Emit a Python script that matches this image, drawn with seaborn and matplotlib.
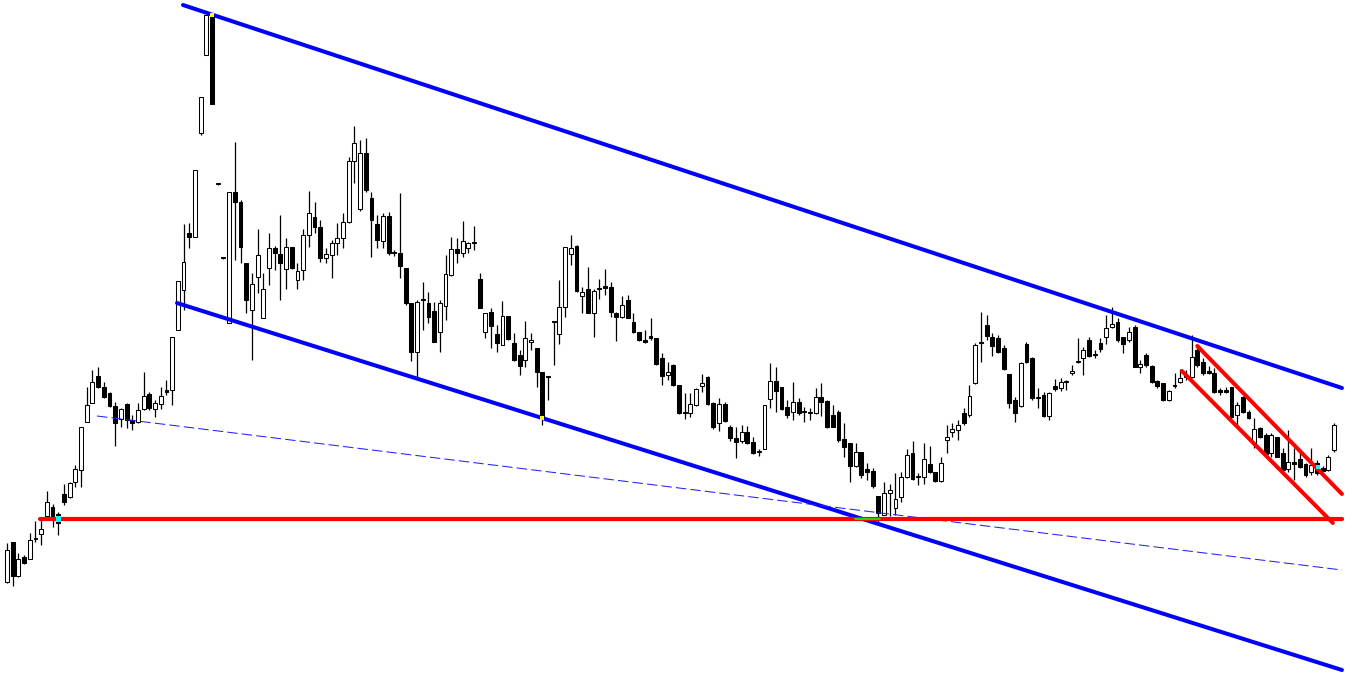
import numpy as np
import pandas as pd
import matplotlib
matplotlib.use("Agg")
import matplotlib.pyplot as plt
import seaborn as sns

# ---------------- data (arbitrary price units) ----------------
opens = [98, 138, 104, 123, 121, 141, 146, 164, 173, 166,
         186, 183, 198, 210, 258, 277, 304, 293, 287, 274,
         261, 276, 260, 258, 271, 286, 271, 276, 290, 290,
         350, 390, 447, 443, 547, 625, 665, 496, 422, 357,
         488, 478, 417, 370, 403, 362, 412, 432, 426, 411,
         433, 400, 410, 445, 463, 453, 422, 425, 437, 442,
         458, 519, 471, 527, 482, 456, 439, 464, 427, 427,
         412, 377, 328, 380, 377, 369, 348, 374, 405, 431,
         427, 432, 437, 401, 348, 368, 346, 335, 364, 337,
         325, 320, 338, 332, 308, 303, 358, 346, 373, 426,
         434, 384, 391, 367, 391, 394, 393, 367, 363, 380,
         358, 348, 340, 344, 342, 322, 305, 315, 295, 267,
         267, 275, 294, 303, 277, 257, 276, 253, 242, 239,
         248, 238, 228, 231, 281, 299, 293, 273, 268, 278,
         268, 267, 267, 283, 279, 265, 268, 241, 237, 214,
         228, 211, 209, 184, 165, 187, 172, 183, 203, 227,
         203, 203, 216, 208, 199, 240, 248, 250, 267, 265,
         297, 338, 355, 343, 342, 332, 306, 280, 274, 336,
         322, 282, 285, 264, 294, 292, 298, 307, 318, 322,
         340, 325, 337, 343, 353, 358, 343, 340, 353, 313,
         325, 314, 299, 297, 280, 294, 298, 303, 303, 330,
         318, 309, 307, 290, 290, 293, 265, 283, 268, 236,
         252, 245, 227, 243, 227, 211, 218, 221, 216, 208,
         217, 212, 210, 230]

highs = [137, 138, 127, 125, 147, 159, 161, 189, 176, 168,
         196, 198, 215, 253, 293, 310, 313, 298, 288, 278,
         272, 277, 265, 277, 308, 288, 280, 293, 300, 343,
         399, 456, 457, 510, 583, 666, 667, 497, 423, 488,
         538, 480, 417, 407, 451, 407, 447, 434, 465, 442,
         433, 417, 451, 489, 478, 460, 432, 440, 457, 467,
         523, 554, 540, 542, 488, 465, 467, 468, 430, 487,
         412, 377, 380, 398, 388, 378, 380, 425, 443, 442,
         459, 438, 454, 407, 367, 372, 355, 379, 364, 347,
         330, 359, 347, 332, 308, 304, 358, 400, 433, 445,
         435, 393, 413, 391, 401, 411, 398, 368, 384, 385,
         367, 348, 350, 362, 342, 327, 318, 316, 295, 287,
         287, 292, 306, 304, 278, 282, 278, 255, 253, 255,
         254, 243, 231, 275, 317, 313, 293, 280, 298, 282,
         273, 272, 292, 297, 280, 275, 270, 257, 237, 237,
         228, 217, 212, 184, 198, 196, 207, 208, 231, 239,
         207, 237, 234, 208, 223, 255, 257, 260, 272, 295,
         337, 368, 365, 347, 345, 335, 306, 283, 318, 338,
         323, 292, 288, 288, 301, 302, 300, 315, 342, 333,
         343, 330, 342, 365, 373, 362, 343, 353, 355, 320,
         327, 315, 300, 297, 290, 307, 311, 310, 345, 335,
         322, 314, 312, 292, 293, 293, 278, 284, 270, 262,
         253, 247, 247, 243, 232, 250, 232, 227, 217, 232,
         220, 214, 225, 257]

lows = [97, 94, 103, 116, 121, 138, 135, 163, 153, 145,
        175, 182, 193, 193, 258, 277, 292, 282, 273, 234,
        253, 252, 250, 257, 270, 270, 263, 271, 285, 275,
        350, 370, 432, 443, 545, 625, 576, 495, 421, 357,
        420, 417, 367, 320, 387, 362, 395, 410, 380, 391,
        411, 391, 400, 433, 447, 418, 417, 402, 425, 432,
        457, 497, 469, 488, 423, 432, 432, 425, 424, 402,
        375, 319, 303, 350, 357, 338, 328, 360, 404, 417,
        423, 427, 430, 372, 342, 332, 328, 335, 340, 319,
        305, 313, 330, 293, 255, 280, 315, 336, 363, 415,
        388, 367, 367, 343, 381, 385, 363, 339, 362, 362,
        347, 339, 337, 340, 315, 295, 300, 294, 266, 261,
        263, 274, 288, 275, 251, 249, 258, 239, 222, 237,
        236, 226, 224, 231, 272, 268, 270, 262, 260, 265,
        258, 260, 266, 264, 252, 253, 238, 223, 198, 213,
        202, 200, 192, 157, 165, 164, 165, 178, 202, 200,
        195, 196, 207, 198, 198, 227, 243, 240, 255, 263,
        296, 318, 340, 324, 327, 310, 272, 258, 273, 317,
        280, 272, 263, 260, 289, 289, 290, 305, 317, 305,
        323, 322, 328, 336, 352, 338, 327, 338, 313, 307,
        313, 297, 292, 279, 279, 292, 297, 300, 302, 313,
        305, 306, 287, 285, 287, 262, 253, 267, 261, 232,
        242, 223, 223, 223, 209, 208, 200, 212, 203, 205,
        205, 208, 209, 228]

closes = [130, 104, 121, 117, 140, 142, 151, 178, 161, 157,
          178, 197, 211, 253, 275, 298, 293, 283, 274, 257,
          271, 260, 257, 270, 284, 272, 277, 284, 288, 343,
          399, 418, 443, 510, 583, 665, 576, 496, 422, 488,
          478, 433, 380, 396, 425, 391, 432, 427, 417, 433,
          412, 409, 445, 467, 453, 422, 426, 437, 442, 458,
          519, 537, 527, 490, 460, 440, 464, 427, 427, 414,
          377, 328, 378, 380, 363, 338, 377, 406, 431, 427,
          439, 437, 438, 372, 367, 354, 337, 364, 341, 320,
          314, 342, 340, 308, 262, 303, 358, 373, 433, 432,
          389, 388, 367, 389, 391, 392, 368, 363, 375, 362,
          348, 340, 338, 342, 316, 304, 308, 295, 267, 267,
          276, 291, 297, 276, 253, 276, 259, 242, 238, 248,
          237, 227, 228, 275, 299, 289, 271, 265, 278, 267,
          268, 267, 283, 278, 253, 253, 240, 233, 214, 228,
          205, 208, 194, 167, 187, 190, 181, 203, 225, 201,
          203, 221, 208, 199, 217, 243, 251, 255, 257, 284,
          335, 337, 344, 334, 328, 311, 277, 267, 317, 318,
          282, 282, 264, 287, 291, 298, 298, 309, 318, 330,
          324, 325, 331, 352, 356, 340, 336, 348, 313, 316,
          315, 298, 294, 280, 289, 294, 302, 305, 323, 315,
          307, 307, 288, 288, 288, 263, 275, 268, 262, 251,
          243, 226, 245, 223, 210, 218, 216, 213, 205, 215,
          207, 209, 223, 255]

# trendline anchors: (candle index, price)
blue_upper_x = [30.9, 234.4]
blue_upper_y = [675, 292]
blue_lower_x = [29.85, 234.4]
blue_lower_y = [377, 10]
blue_dash_x = [15.8, 234.4]
blue_dash_y = [264, 110]
red_level_x = [5.8, 234.4]
red_level_y = [161, 161]
red_chan_up_x = [209.0, 234.4]
red_chan_up_y = [334, 186]
red_chan_lo_x = [206.3, 232.8]
red_chan_lo_y = [309, 157]
green_seg_x = [148.9, 153.3]
green_seg_y = [161, 161]

# ---------------- figure ----------------
sns.set_theme(style="white")
plt.rcParams["font.family"] = ["DejaVu Sans"]

df = pd.DataFrame({"o": opens, "h": highs, "l": lows, "c": closes})
df["idx"] = np.arange(len(df))

fig = plt.figure(figsize=(13.53, 6.79), dpi=100, facecolor="white")
ax = fig.add_axes([0, 0, 1, 1])
ax.set_facecolor("white")

# wicks
ax.vlines(df["idx"], df["l"], df["h"], color="black", linewidth=0.9, zorder=2)

# bodies
bottoms = np.minimum(df["o"], df["c"])
heights = np.maximum(np.abs(df["c"] - df["o"]), 1.0)
faces = np.where(df["c"] < df["o"], "black", "white")
ax.bar(df["idx"], heights, bottom=bottoms, width=0.68, color=faces,
       edgecolor="black", linewidth=0.75, zorder=3)

# trend lines
sns.lineplot(x=blue_upper_x, y=blue_upper_y, ax=ax, color="#0000FF", lw=2.9, zorder=4, legend=False)
sns.lineplot(x=blue_lower_x, y=blue_lower_y, ax=ax, color="#0000FF", lw=2.9, zorder=4, legend=False)
sns.lineplot(x=blue_dash_x, y=blue_dash_y, ax=ax, color="#2222FF", lw=0.75, zorder=4,
             dashes=False, legend=False).lines[-1].set_dashes((10, 4))
sns.lineplot(x=red_level_x, y=red_level_y, ax=ax, color="#FF0000", lw=3.0, zorder=5, legend=False)
sns.lineplot(x=red_chan_up_x, y=red_chan_up_y, ax=ax, color="#FF0000", lw=2.9, zorder=5, legend=False)
sns.lineplot(x=red_chan_lo_x, y=red_chan_lo_y, ax=ax, color="#FF0000", lw=2.9, zorder=5, legend=False)
sns.lineplot(x=green_seg_x, y=green_seg_y, ax=ax, color="#00FF00", lw=1.2, zorder=6, legend=False)

# small markers
ax.scatter([9], [161], marker="s", s=14, color="#00FFFF", edgecolor="none", zorder=7)
ax.scatter([36], [665], marker="s", s=6, color="#FFFF00", edgecolor="none", zorder=7)
ax.scatter([94], [262], marker="s", s=8, color="#FFFF00", edgecolor="none", zorder=7)
ax.scatter([230.2], [213], marker="s", s=8, color="#00FFFF", edgecolor="none", zorder=7)

ax.set_xlim(-1.229, 236.34)
ax.set_ylim(1, 680)
ax.set_axis_off()

fig.savefig("out.png", dpi=100, facecolor="white")
